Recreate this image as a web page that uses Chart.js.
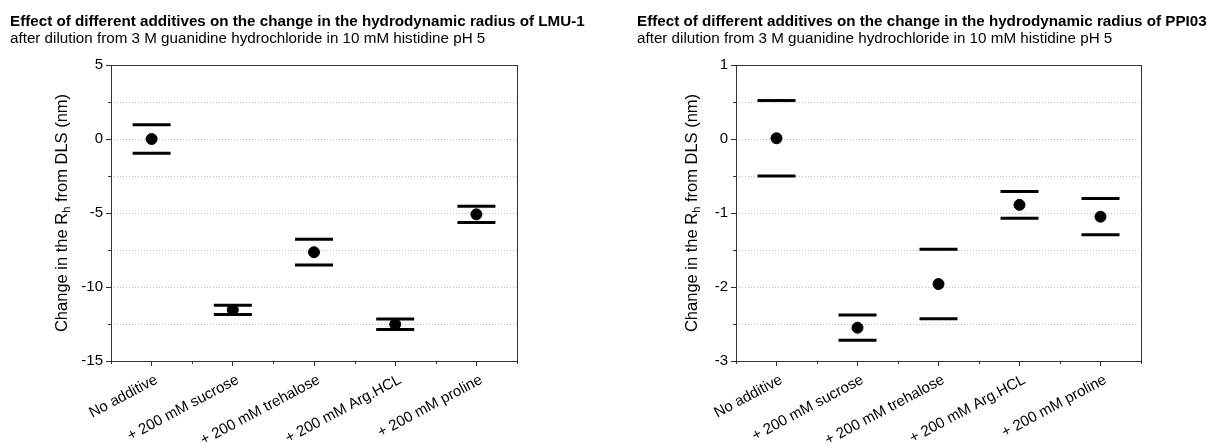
<!DOCTYPE html>
<html>
<head>
<meta charset="utf-8">
<script src="https://cdn.jsdelivr.net/npm/chart.js@4.4.0/dist/chart.umd.min.js"></script>
<style>
  body { margin: 0; background: #fff; width: 1216px; height: 443px; overflow: hidden; position: relative;
         font-family: "Liberation Sans", Arial, sans-serif; color: #000; }
  .box { position: absolute; top: 0; width: 608px; height: 443px; }
  .hdr { position: absolute; top: 12px; font-size: 15.2px; line-height: 17px; white-space: nowrap; z-index: 2; }
  .hdr b { display: block; }
</style>
</head>
<body>
<div class="box" style="left:0"><canvas id="lmuChart" width="608" height="443"></canvas></div>
<div class="box" style="left:608px"><canvas id="ppiChart" width="608" height="443"></canvas></div>
<div class="hdr" style="left:10px"><b>Effect of different additives on the change in the hydrodynamic radius of LMU-1</b>after dilution from 3 M guanidine hydrochloride in 10 mM histidine pH 5</div>
<div class="hdr" style="left:637px"><b>Effect of different additives on the change in the hydrodynamic radius of PPI03</b>after dilution from 3 M guanidine hydrochloride in 10 mM histidine pH 5</div>
<script>
const categories = ['No additive', '+ 200 mM sucrose', '+ 200 mM trehalose', '+ 200 mM Arg.HCL', '+ 200 mM proline'];

// LMU-1: mean change in Rh (nm) and its error
const lmuMean = [0, -11.55, -7.65, -12.52, -5.09];
const lmuErr = [0.97, 0.31, 0.87, 0.36, 0.55];

// PPI03
const ppiMean = [0.01, -2.55, -1.96, -0.89, -1.05];
const ppiErr = [0.51, 0.17, 0.47, 0.18, 0.245];

const FONT = '"Liberation Sans", Arial, sans-serif';

function isMajor(v, step) {
	return Math.abs(v / step - Math.round(v / step)) < 1e-6;
}

// error bars are drawn as caps only, no stem
const errorCaps = {
	id: 'errorCaps',
	beforeDatasetsDraw(chart) {
		var ctx = chart.ctx, x = chart.scales.x, y = chart.scales.y;
		ctx.save();
		ctx.strokeStyle = '#000';
		ctx.lineWidth = 3;
		chart.data.datasets.forEach(function (ds) {
			ds.data.forEach(function (v, i) {
				var cx = x.getPixelForValue(i);
				[v + ds.errors[i], v - ds.errors[i]].forEach(function (e) {
					var py = y.getPixelForValue(e);
					ctx.beginPath();
					ctx.moveTo(cx - 19, py);
					ctx.lineTo(cx + 19, py);
					ctx.stroke();
				});
			});
		});
		ctx.restore();
	}
};

// box around the plot, minor ticks and the y title with its subscript
const axisExtras = {
	id: 'axisExtras',
	afterDraw(chart, args, opts) {
		var ctx = chart.ctx, a = chart.chartArea, x = chart.scales.x, y = chart.scales.y;
		ctx.save();
		ctx.strokeStyle = '#333';
		ctx.lineWidth = 1;
		ctx.strokeRect(Math.round(a.left) + 0.5, Math.round(a.top) + 0.5, Math.round(a.right - a.left), Math.round(a.bottom - a.top));

		ctx.beginPath();
		for (var i = 0; i <= chart.data.labels.length; i++) {
			var px = Math.round(x.getPixelForValue(i - 0.5)) + 0.5;
			ctx.moveTo(px, a.bottom);
			ctx.lineTo(px, a.bottom + 3);
		}
		y.ticks.forEach(function (t) {
			if (isMajor(t.value, opts.major)) return;
			var py = Math.round(y.getPixelForValue(t.value)) + 0.5;
			ctx.moveTo(a.left, py);
			ctx.lineTo(a.left - 3, py);
		});
		ctx.stroke();

		var p1 = 'Change in the R', p2 = 'h', p3 = ' from DLS (nm)';
		var main = '16.5px ' + FONT, sub = '11px ' + FONT;
		ctx.translate(opts.titleX, (a.top + a.bottom) / 2);
		ctx.rotate(-Math.PI / 2);
		ctx.fillStyle = '#000';
		ctx.textBaseline = 'middle';
		ctx.font = main;
		var w1 = ctx.measureText(p1).width, w3 = ctx.measureText(p3).width;
		ctx.font = sub;
		var w2 = ctx.measureText(p2).width;
		var tx = -(w1 + w2 + w3) / 2;
		ctx.font = main; ctx.fillText(p1, tx, 0); tx += w1;
		ctx.font = sub; ctx.fillText(p2, tx, 5); tx += w2;
		ctx.font = main; ctx.fillText(p3, tx, 0);
		ctx.restore();
	}
};

function drawPanel(id, means, errs, yMin, yMax, step, major, axisWidth, rightPad, titleX) {
	var ctx = $id(id).getContext('2d');
	return new Chart(ctx, {
		type: 'line',
		data: {
			labels: categories,
			datasets: [{
				data: means,
				errors: errs,
				showLine: false,
				pointRadius: 5.5,
				pointBorderWidth: 1,
				pointBackgroundColor: '#000',
				borderColor: '#000'
			}]
		},
		options: {
			responsive: false,
			animation: false,
			layout: { padding: { top: 65, right: rightPad, left: 0, bottom: 0 } },
			plugins: {
				legend: { display: false },
				tooltip: { enabled: false },
				axisExtras: { major: major, titleX: titleX }
			},
			scales: {
				x: {
					offset: true,
					border: { display: false },
					grid: { drawOnChartArea: false, offset: false, tickLength: 5, tickColor: '#333' },
					ticks: {
						autoSkip: false, minRotation: 28, maxRotation: 28, padding: 5, labelOffset: 5,
						color: '#000', font: { family: FONT, size: 15 }
					},
					afterFit: function (scale) { scale.height = 82; }
				},
				y: {
					min: yMin, max: yMax,
					border: { display: false, dash: [1, 2] },
					grid: {
						color: function (c) {
							var v = c.tick.value;
							return (v === yMin || v === yMax) ? 'rgba(0,0,0,0)' : '#bcbcbc';
						},
						tickColor: function (c) { return isMajor(c.tick.value, major) ? '#333' : 'rgba(0,0,0,0)'; },
						tickBorderDash: [],
						tickLength: 5
					},
					ticks: {
						stepSize: step,
						color: '#000',
						font: { family: FONT, size: 15 },
						callback: function (v) { return isMajor(v, major) ? String(v) : ''; }
					},
					afterFit: function (scale) { scale.width = axisWidth; }
				}
			}
		},
		plugins: [errorCaps, axisExtras]
	});
}

function $id(id) { return document.getElementById(id); }

var lmuChart = drawPanel('lmuChart', lmuMean, lmuErr, -15, 5, 2.5, 5, 111, 91, 62);
var ppiChart = drawPanel('ppiChart', ppiMean, ppiErr, -3, 1, 0.5, 1, 128, 75, 84);
</script>
</body>
</html>
